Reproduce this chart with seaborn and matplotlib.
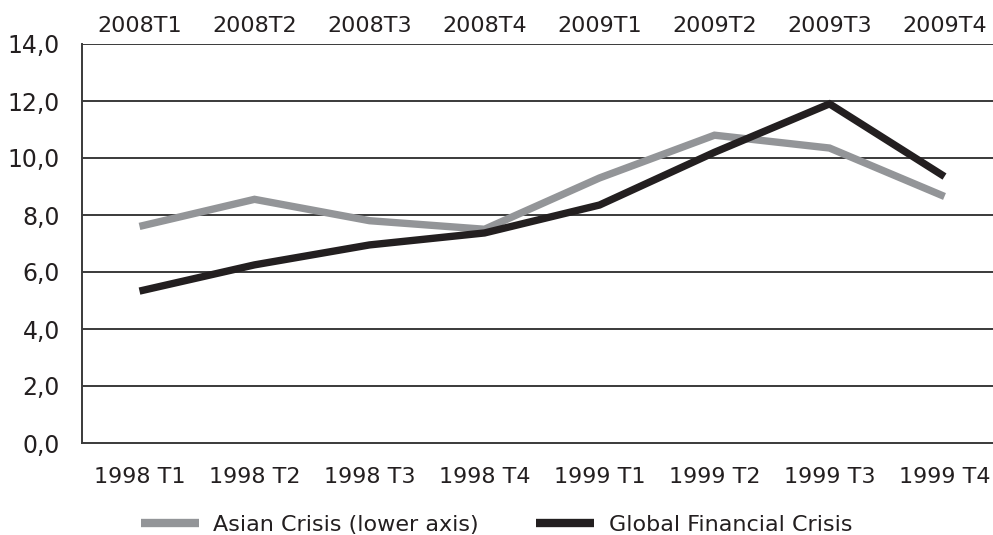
import matplotlib
matplotlib.use("Agg")
import matplotlib.pyplot as plt
import seaborn as sns
import pandas as pd
from matplotlib.lines import Line2D

lower_labels = ["1998 T1", "1998 T2", "1998 T3", "1998 T4", "1999 T1", "1999 T2", "1999 T3", "1999 T4"]
upper_labels = ["2008T1", "2008T2", "2008T3", "2008T4", "2009T1", "2009T2", "2009T3", "2009T4"]
asian = [7.6, 8.55, 7.8, 7.5, 9.3, 10.8, 10.35, 8.65]
gfc = [5.33, 6.25, 6.95, 7.37, 8.35, 10.2, 11.9, 9.35]
series_names = ["Asian Crisis (lower axis)", "Global Financial Crisis"]
y_ticks = [0, 2, 4, 6, 8, 10, 12, 14]

df = pd.DataFrame({
    "quarter": lower_labels * 2,
    "value": asian + gfc,
    "series": [series_names[0]] * len(asian) + [series_names[1]] * len(gfc),
})

sns.set_style("white")
plt.rcParams["font.family"] = ["DejaVu Sans"]
FS = 16

fig = plt.figure(figsize=(9.93, 5.35), dpi=100)
ax = fig.add_axes([82 / 993, 1 - 443 / 535, 920 / 993, (443 - 44) / 535])

palette = {series_names[0]: "#939598", series_names[1]: "#231f20"}
sns.lineplot(data=df, x="quarter", y="value", hue="series", palette=palette,
             linewidth=5.3, ax=ax, sort=False, legend=False)
for ln in ax.lines:
    ln.set_solid_capstyle("butt")
    ln.set_solid_joinstyle("miter")

ax.set_xlim(-0.5, 7.5)
ax.set_ylim(0, 14)
ax.set_yticks(y_ticks)
ax.set_yticklabels([f"{v:.1f}".replace(".", ",") for v in y_ticks], fontsize=FS + 1, color="#231f20")
ax.set_xticks(range(len(lower_labels)))
ax.set_xticklabels(lower_labels, fontsize=FS, color="#231f20")
ax.set_xlabel("")
ax.set_ylabel("")
ax.tick_params(axis="x", length=0, pad=17)
ax.tick_params(axis="y", length=0, pad=16)

for v in y_ticks[1:]:
    ax.axhline(v, color="#3a3a3a", linewidth=1.4, zorder=0)

for s in ["top", "right"]:
    ax.spines[s].set_visible(False)
for s in ["left", "bottom"]:
    ax.spines[s].set_color("#3a3a3a")
    ax.spines[s].set_linewidth(1.4)

ax2 = ax.twiny()
ax2.set_xlim(ax.get_xlim())
ax2.set_xticks(range(len(upper_labels)))
ax2.set_xticklabels(upper_labels, fontsize=FS, color="#231f20")
ax2.tick_params(axis="x", length=0, pad=6)
for s in ["top", "right", "left", "bottom"]:
    ax2.spines[s].set_visible(False)

handles = [Line2D([0], [0], color=palette[n], linewidth=6, solid_capstyle="butt") for n in series_names]
fig.legend(handles, series_names, loc="center", bbox_to_anchor=(0.5, 1 - 525 / 535),
           ncol=2, frameon=False, fontsize=FS, handlelength=2.6, handletextpad=0.65,
           columnspacing=2.6, labelcolor="#231f20")

fig.savefig("out.png", dpi=100)
